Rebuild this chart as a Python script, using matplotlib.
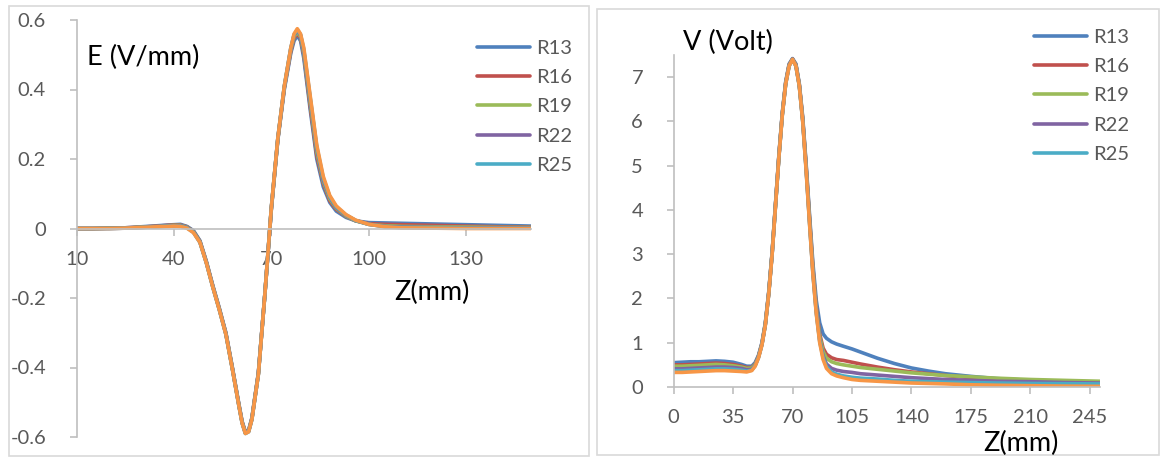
import matplotlib
matplotlib.use("Agg")
import matplotlib.pyplot as plt
from matplotlib.patches import Rectangle

plt.rcParams['font.family'] = ['Lato', 'DejaVu Sans']

# ---------------- data ----------------
series_names = ["R13", "R16", "R19", "R22", "R25", "R28"]
colors = ["#4F81BD", "#C0504D", "#9BBB59", "#8064A2", "#4BACC6", "#F79646"]

z_E = [10, 15, 20, 25, 30, 35, 38, 40, 42, 44, 46, 48, 50, 52, 54, 56, 58, 60, 61, 62,
       63, 64, 66, 68, 70, 72, 74, 76, 77, 78, 79, 80, 82, 84, 86, 88, 90, 93, 96, 100,
       105, 110, 120, 130, 140, 150]

E_R13 = [0, 0, 0.001, 0.002, 0.005, 0.008, 0.010, 0.011, 0.012, 0.006, -0.006, -0.035, -0.095, -0.165, -0.23, -0.30, -0.40, -0.505, -0.555, -0.585,
         -0.58, -0.545, -0.415, -0.19, 0.055, 0.255, 0.40, 0.505, 0.54, 0.555, 0.54, 0.49, 0.34, 0.20, 0.12, 0.075, 0.05, 0.032, 0.022, 0.017,
         0.016, 0.015, 0.013, 0.011, 0.009, 0.007]
E_R16 = [0, 0, 0.001, 0.002, 0.004, 0.007, 0.009, 0.010, 0.010, 0.005, -0.008, -0.037, -0.097, -0.167, -0.232, -0.302, -0.402, -0.507, -0.557, -0.587,
         -0.582, -0.547, -0.417, -0.19, 0.057, 0.257, 0.405, 0.51, 0.548, 0.56, 0.548, 0.50, 0.35, 0.21, 0.13, 0.08, 0.055, 0.035, 0.022, 0.014,
         0.012, 0.011, 0.009, 0.007, 0.005, 0.004]
E_R19 = [0, 0, 0.001, 0.001, 0.004, 0.006, 0.008, 0.009, 0.009, 0.004, -0.009, -0.038, -0.098, -0.168, -0.233, -0.303, -0.403, -0.508, -0.558, -0.588,
         -0.583, -0.548, -0.418, -0.19, 0.058, 0.258, 0.407, 0.515, 0.552, 0.565, 0.552, 0.505, 0.36, 0.22, 0.135, 0.085, 0.058, 0.036, 0.022, 0.012,
         0.008, 0.006, 0.005, 0.004, 0.003, 0.003]
E_R22 = [0, 0, 0, 0.001, 0.003, 0.006, 0.007, 0.008, 0.008, 0.003, -0.010, -0.039, -0.099, -0.169, -0.234, -0.304, -0.404, -0.509, -0.559, -0.589,
         -0.584, -0.549, -0.419, -0.19, 0.059, 0.259, 0.408, 0.518, 0.556, 0.57, 0.556, 0.51, 0.37, 0.23, 0.14, 0.09, 0.06, 0.038, 0.023, 0.012,
         0.006, 0.004, 0.003, 0.002, 0.002, 0.002]
E_R25 = [0, 0, 0, 0.001, 0.003, 0.005, 0.007, 0.007, 0.007, 0.002, -0.011, -0.040, -0.10, -0.17, -0.235, -0.305, -0.405, -0.51, -0.56, -0.59,
         -0.585, -0.55, -0.42, -0.19, 0.06, 0.26, 0.41, 0.52, 0.558, 0.572, 0.558, 0.515, 0.375, 0.235, 0.145, 0.092, 0.062, 0.039, 0.023, 0.012,
         0.005, 0.003, 0.002, 0.001, 0.001, 0.001]
E_R28 = [0, 0, 0, 0.001, 0.003, 0.005, 0.006, 0.007, 0.006, 0.001, -0.012, -0.040, -0.10, -0.17, -0.235, -0.305, -0.405, -0.51, -0.56, -0.59,
         -0.585, -0.55, -0.42, -0.19, 0.06, 0.26, 0.41, 0.52, 0.56, 0.575, 0.56, 0.52, 0.38, 0.24, 0.15, 0.095, 0.065, 0.04, 0.024, 0.012,
         0.005, 0.002, 0.001, 0.0, 0.0, 0.0]

z_V = [0, 5, 10, 15, 20, 25, 30, 35, 40, 43, 46, 48, 50, 52, 54, 56, 58, 60, 62, 64,
       66, 68, 70, 72, 74, 76, 78, 80, 82, 84, 86, 88, 90, 93, 96, 100, 105, 110, 120, 130,
       140, 150, 160, 175, 190, 210, 230, 251]

V_R13 = [0.55, 0.56, 0.57, 0.57, 0.58, 0.59, 0.58, 0.56, 0.51, 0.47, 0.47, 0.55, 0.72, 1.0, 1.45, 2.15, 3.05, 4.15, 5.25, 6.2,
         6.9, 7.3, 7.42, 7.3, 6.85, 6.1, 5.05, 3.9, 2.8, 1.95, 1.45, 1.2, 1.1, 1.02, 0.97, 0.92, 0.86, 0.79, 0.65, 0.53,
         0.43, 0.36, 0.30, 0.24, 0.19, 0.15, 0.12, 0.10]
V_R16 = [0.50, 0.50, 0.51, 0.52, 0.53, 0.54, 0.53, 0.51, 0.47, 0.44, 0.44, 0.52, 0.70, 0.98, 1.43, 2.13, 3.03, 4.13, 5.23, 6.18,
         6.88, 7.28, 7.41, 7.28, 6.83, 6.06, 5.0, 3.83, 2.7, 1.8, 1.2, 0.88, 0.74, 0.66, 0.62, 0.60, 0.56, 0.52, 0.45, 0.39,
         0.34, 0.30, 0.26, 0.21, 0.18, 0.15, 0.13, 0.11]
V_R19 = [0.47, 0.47, 0.48, 0.49, 0.50, 0.51, 0.50, 0.48, 0.45, 0.42, 0.43, 0.51, 0.69, 0.97, 1.42, 2.12, 3.02, 4.12, 5.22, 6.17,
         6.87, 7.27, 7.4, 7.27, 6.82, 6.04, 4.97, 3.8, 2.66, 1.75, 1.14, 0.8, 0.65, 0.57, 0.53, 0.50, 0.47, 0.44, 0.40, 0.36,
         0.32, 0.29, 0.26, 0.23, 0.20, 0.17, 0.15, 0.13]
V_R22 = [0.41, 0.41, 0.42, 0.43, 0.44, 0.45, 0.45, 0.44, 0.42, 0.39, 0.40, 0.49, 0.68, 0.96, 1.41, 2.11, 3.01, 4.11, 5.21, 6.16,
         6.86, 7.26, 7.4, 7.26, 6.81, 6.02, 4.94, 3.75, 2.6, 1.7, 1.06, 0.70, 0.52, 0.42, 0.38, 0.35, 0.33, 0.30, 0.27, 0.24,
         0.21, 0.19, 0.17, 0.15, 0.13, 0.12, 0.10, 0.09]
V_R25 = [0.37, 0.37, 0.38, 0.39, 0.40, 0.41, 0.41, 0.40, 0.38, 0.36, 0.38, 0.48, 0.67, 0.96, 1.41, 2.11, 3.01, 4.1, 5.2, 6.15,
         6.85, 7.25, 7.4, 7.25, 6.8, 6.01, 4.92, 3.72, 2.57, 1.67, 1.03, 0.66, 0.46, 0.34, 0.29, 0.25, 0.22, 0.20, 0.18, 0.15,
         0.13, 0.12, 0.11, 0.10, 0.09, 0.08, 0.075, 0.07]
V_R28 = [0.33, 0.33, 0.34, 0.35, 0.36, 0.37, 0.37, 0.36, 0.35, 0.34, 0.37, 0.47, 0.66, 0.95, 1.4, 2.1, 3.0, 4.1, 5.2, 6.15,
         6.85, 7.25, 7.4, 7.25, 6.8, 6.0, 4.9, 3.7, 2.55, 1.65, 1.0, 0.62, 0.42, 0.30, 0.25, 0.21, 0.17, 0.15, 0.13, 0.11,
         0.09, 0.08, 0.07, 0.05, 0.04, 0.03, 0.02, 0.015]

E_series = [E_R13, E_R16, E_R19, E_R22, E_R25, E_R28]
V_series = [V_R13, V_R16, V_R19, V_R22, V_R25, V_R28]

E_xticks = [10, 40, 70, 100, 130]
E_yticks = [-0.6, -0.4, -0.2, 0, 0.2, 0.4, 0.6]
E_ytick_labels = ["-0.6", "-0.4", "-0.2", "0", "0.2", "0.4", "0.6"]
V_xticks = [0, 35, 70, 105, 140, 175, 210, 245]
V_yticks = [0, 1, 2, 3, 4, 5, 6, 7]

# ---------------- figure ----------------
W, H = 1160, 457
fig = plt.figure(figsize=(W / 100, H / 100), dpi=100)

def fx(px):
    return px / W

def fy(py):
    return 1 - py / H

# panel borders
for (x0, y0, x1, y1) in [(9, 6, 589, 456), (597, 9, 1159, 455)]:
    fig.patches.append(Rectangle((fx(x0), fy(y1)), fx(x1 - x0), (y1 - y0) / H,
                                 transform=fig.transFigure, fill=False,
                                 edgecolor="#D9D9D9", linewidth=1.2))

axis_col = "#BFBFBF"
tick_col = "#595959"
TFS = 14.5
TITLE_FS = 19.5
LW = 2.6

def style(ax):
    for s in ["top", "right"]:
        ax.spines[s].set_visible(False)
    for s in ["left", "bottom"]:
        ax.spines[s].set_color(axis_col)
        ax.spines[s].set_linewidth(1.2)
    ax.tick_params(axis="both", colors=axis_col, labelcolor=tick_col, labelsize=TFS,
                   direction="out", length=5, width=1.2)
    ax.tick_params(axis="y", pad=17)
    ax.tick_params(axis="x", pad=11)
    ax.set_facecolor("none")

leg_kw = dict(frameon=False, fontsize=TFS, handlelength=2.65, handletextpad=0.3,
              labelspacing=0.6, borderpad=0, borderaxespad=0)

# left: E
axE = fig.add_axes([fx(76.6), fy(437), fx(531 - 76.6), (437 - 20) / H])
for name, vals, c in zip(series_names, E_series, colors):
    lab = name if name != "R28" else "_" + name
    axE.plot(z_E, vals, color=c, lw=LW, label=lab, solid_capstyle="round")
axE.set_xlim(10, 150)
axE.set_ylim(-0.6, 0.6)
style(axE)
axE.spines["bottom"].set_position(("data", 0))
axE.set_xticks(E_xticks)
axE.set_yticks(E_yticks)
axE.set_yticklabels(E_ytick_labels)
fig.text(fx(87), fy(57), "E (V/mm)", fontsize=TITLE_FS, color="black", ha="left", va="center")
fig.text(fx(432), fy(292), "Z(mm)", fontsize=TITLE_FS, color="black", ha="center", va="center")
legE = axE.legend(loc="upper left", bbox_to_anchor=(fx(477), fy(40)), bbox_transform=fig.transFigure, **leg_kw)
for t in legE.get_texts():
    t.set_color(tick_col)

# right: V
axV = fig.add_axes([fx(673.6), fy(387), fx(1100 - 673.6), (387 - 55) / H])
for name, vals, c in zip(series_names, V_series, colors):
    lab = name if name != "R28" else "_" + name
    axV.plot(z_V, vals, color=c, lw=LW, label=lab, solid_capstyle="round")
axV.set_xlim(0, 251)
axV.set_ylim(0, 7.5)
style(axV)
axV.set_xticks(V_xticks)
axV.set_yticks(V_yticks)
fig.text(fx(683), fy(42), "V (Volt)", fontsize=TITLE_FS, color="black", ha="left", va="center")
fig.text(fx(1021), fy(443), "Z(mm)", fontsize=TITLE_FS, color="black", ha="center", va="center")
legV = axV.legend(loc="upper left", bbox_to_anchor=(fx(1034), fy(29)), bbox_transform=fig.transFigure, **leg_kw)
for t in legV.get_texts():
    t.set_color(tick_col)

fig.savefig("out.png", dpi=100)
